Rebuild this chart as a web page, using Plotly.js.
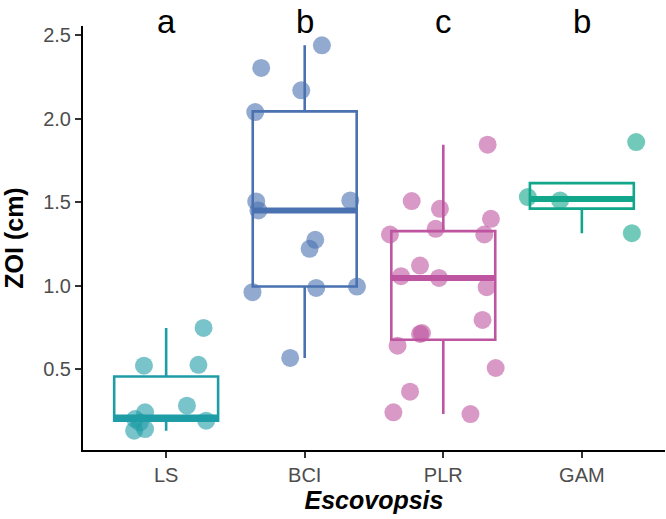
<!DOCTYPE html>
<html>
<head>
<meta charset="utf-8">
<script src="https://cdn.plot.ly/plotly-3.0.1.min.js"></script>
<style>html,body{margin:0;padding:0;background:#fff;}#chart{width:666px;height:519px;}</style>
</head>
<body>
<div id="chart"></div>
<script>
// ---- data ----
var categories = ['LS', 'BCI', 'PLR', 'GAM'];
var letters = ['a', 'b', 'c', 'b'];
var colors = ['#1F9DA6', '#4A72B0', '#BE55A0', '#12A68A'];

// box statistics
var q1 = [0.19, 0.994, 0.675, 1.461];
var medians = [0.21, 1.45, 1.046, 1.518];
var q3 = [0.455, 2.044, 1.326, 1.614];
var lowerWhisker = [0.13, 0.566, 0.23, 1.314];
var upperWhisker = [0.746, 2.44, 1.844, 1.614];

// individual observations (y) and their horizontal jitter offsets
var lsY = [0.746, 0.52, 0.525, 0.28, 0.24, 0.20, 0.19, 0.18, 0.14, 0.13];
var lsJit = [0.27, -0.16, 0.233, 0.15, -0.152, -0.224, 0.289, -0.19, -0.152, -0.231];
var bciY = [2.44, 2.304, 2.17, 2.04, 1.504, 1.45, 1.51, 1.274, 1.22, 0.96, 0.986, 0.994, 0.566];
var bciJit = [0.124, -0.314, -0.025, -0.357, -0.35, -0.334, 0.329, 0.076, 0.035, -0.377, 0.083, 0.377, -0.105];
var plrY = [1.844, 1.506, 1.46, 1.40, 1.34, 1.306, 1.306, 1.12, 1.056, 1.046, 0.99, 0.794, 0.71, 0.715, 0.64, 0.506, 0.364, 0.24, 0.23];
var plrJit = [0.32, -0.228, -0.024, 0.344, -0.055, -0.385, 0.296, -0.168, -0.305, -0.031, 0.313, 0.283, -0.168, -0.154, -0.33, 0.378, -0.24, -0.36, 0.196];
var gamY = [1.53, 1.51, 1.314, 1.86];
var gamJit = [-0.39, -0.157, 0.361, 0.392];

var pointsY = [lsY, bciY, plrY, gamY];
var pointsJit = [lsJit, bciJit, plrJit, gamJit];

var yRange = [0.0145, 2.5555];

// ---- build traces ----
var traces = [];
var boxWidth = 0.75;
categories.forEach(function (c, i) {
  var pos = i + 1;
  traces.push({
    type: 'box', x: [pos], q1: [q1[i]], median: [medians[i]], q3: [q3[i]],
    lowerfence: [lowerWhisker[i]], upperfence: [upperWhisker[i]],
    width: boxWidth, whiskerwidth: 0, boxpoints: false,
    fillcolor: 'white', line: {color: colors[i], width: 2.6},
    hoverinfo: 'skip', showlegend: false
  });
});
categories.forEach(function (c, i) {
  var pos = i + 1;
  traces.push({
    type: 'scatter', mode: 'lines',
    x: [pos - boxWidth / 2, pos + boxWidth / 2], y: [medians[i], medians[i]],
    line: {color: colors[i], width: 6}, hoverinfo: 'skip', showlegend: false
  });
});
categories.forEach(function (c, i) {
  var pos = i + 1;
  traces.push({
    type: 'scatter', mode: 'markers', name: c,
    x: pointsJit[i].map(function (j) { return pos + j; }),
    y: pointsY[i],
    marker: {color: colors[i], size: 18, opacity: 0.6, line: {width: 0}},
    showlegend: false, cliponaxis: false
  });
});

// significance letters sit in the top margin, just under the figure edge
var annotations = letters.map(function (t, i) {
  return {
    x: i + 1, y: 1.059, xref: 'x', yref: 'paper', text: t, showarrow: false,
    xanchor: 'center', yanchor: 'top',
    font: {family: 'Liberation Sans, Arial, sans-serif', size: 33, color: '#000'}
  };
});

var layout = {
  width: 666, height: 519,
  margin: {l: 83, r: 1, t: 26, b: 69, pad: 0},
  paper_bgcolor: 'white', plot_bgcolor: 'white',
  showlegend: false,
  xaxis: {
    range: [0.4, 4.6], tickvals: [1, 2, 3, 4], ticktext: categories,
    showline: true, linecolor: '#000', linewidth: 2,
    ticks: 'outside', ticklen: 6, tickwidth: 2, tickcolor: '#333',
    showgrid: false, zeroline: false,
    tickfont: {family: 'Liberation Sans, Arial, sans-serif', size: 20, color: '#4D4D4D'},
    title: {text: '<b><i>Escovopsis</i></b>', standoff: 6,
      font: {family: 'Liberation Sans, Arial, sans-serif', size: 25, color: '#000'}}
  },
  yaxis: {
    range: yRange, tick0: 0, dtick: 0.5, tickformat: '.1f',
    showline: true, linecolor: '#000', linewidth: 2,
    ticks: 'outside', ticklen: 6, tickwidth: 2, tickcolor: '#333',
    showgrid: false, zeroline: false,
    tickfont: {family: 'Liberation Sans, Arial, sans-serif', size: 20, color: '#4D4D4D'},
    title: {text: '<b>ZOI (cm)</b>', standoff: 14,
      font: {family: 'Liberation Sans, Arial, sans-serif', size: 25, color: '#000'}}
  },
  annotations: annotations
};

Plotly.newPlot('chart', traces, layout, {displayModeBar: false, staticPlot: true});
</script>
</body>
</html>
